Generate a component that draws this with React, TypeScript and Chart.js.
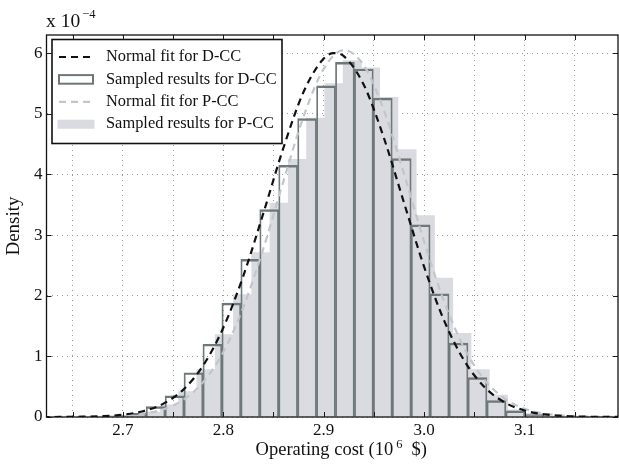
import React, { useEffect, useRef } from 'react';
import { Chart, registerables } from 'chart.js';

Chart.register(...registerables);

// ---------- data (density values in units of 1e-4) ----------
const dccBinCenters = [2.69493, 2.71378, 2.73263, 2.75148, 2.77033, 2.78918, 2.80803, 2.82688, 2.84573, 2.86458, 2.88343, 2.90228, 2.92113, 2.93998, 2.95883, 2.97768, 2.99653, 3.01538, 3.03423, 3.05308, 3.07193, 3.09078, 3.10963];
const dccDensity = [0.02, 0.06, 0.17, 0.35, 0.73, 1.20, 1.88, 2.60, 3.42, 4.15, 4.92, 5.46, 5.85, 5.74, 5.26, 4.26, 3.17, 2.03, 1.22, 0.65, 0.27, 0.10, 0.04];

const pccBinCenters = [2.7100, 2.7282, 2.7464, 2.7646, 2.7828, 2.8010, 2.8192, 2.8374, 2.8556, 2.8738, 2.8920, 2.9102, 2.9284, 2.9466, 2.9648, 2.9830, 3.0012, 3.0194, 3.0376, 3.0558, 3.0740, 3.0922, 3.1104, 3.1286];
const pccDensity = [0.03, 0.08, 0.20, 0.42, 0.78, 1.36, 2.02, 2.71, 3.53, 4.25, 4.93, 5.50, 5.88, 5.76, 5.27, 4.41, 3.32, 2.29, 1.38, 0.78, 0.36, 0.12, 0.06, 0.02];

const dccFitX = [2.62, 2.64, 2.66, 2.68, 2.70, 2.72, 2.74, 2.76, 2.78, 2.80, 2.82, 2.84, 2.86, 2.88, 2.90, 2.91, 2.92, 2.94, 2.96, 2.98, 3.00, 3.02, 3.04, 3.06, 3.08, 3.10, 3.12, 3.14, 3.16, 3.18, 3.20];
const dccFitY = [0.000, 0.001, 0.005, 0.014, 0.038, 0.095, 0.216, 0.448, 0.850, 1.471, 2.329, 3.366, 4.445, 5.364, 5.911, 6.000, 5.951, 5.474, 4.598, 3.530, 2.475, 1.585, 0.927, 0.496, 0.242, 0.108, 0.044, 0.016, 0.006, 0.002, 0.001];

const pccFitX = [2.62, 2.64, 2.66, 2.68, 2.70, 2.72, 2.74, 2.76, 2.78, 2.80, 2.82, 2.84, 2.86, 2.88, 2.90, 2.92, 2.94, 2.96, 2.98, 3.00, 3.02, 3.04, 3.06, 3.08, 3.10, 3.12, 3.14, 3.16, 3.18, 3.20];
const pccFitY = [0.000, 0.001, 0.002, 0.006, 0.019, 0.051, 0.125, 0.281, 0.575, 1.070, 1.810, 2.783, 3.895, 4.958, 5.742, 6.050, 5.797, 5.054, 4.007, 2.891, 1.897, 1.133, 0.615, 0.304, 0.136, 0.056, 0.021, 0.007, 0.002, 0.001];

const xTickValues = [2.65, 2.70, 2.75, 2.80, 2.85, 2.90, 2.95, 3.00, 3.05, 3.10, 3.15];
const xTickLabels = ['', '2.7', '', '2.8', '', '2.9', '', '3.0', '', '3.1', ''];
const yTickValues = [0, 1, 2, 3, 4, 5, 6];
const yTickLabels = ['0', '1', '2', '3', '4', '5', '6'];

const seriesLabels = ['Normal fit for D-CC', 'Sampled results for D-CC', 'Normal fit for P-CC', 'Sampled results for P-CC'];
const xTitleMain = 'Operating cost (10';
const xTitleSup = '6';
const xTitleTail = '$)';
const yTitle = 'Density';
const yExpBase = 'x 10';
const yExpSup = '\u22124';

const X_MIN = 2.624;
const X_MAX = 3.193;
const Y_MAX = 6.3;

const FONT = "'Liberation Serif', 'DejaVu Serif', 'Times New Roman', serif";
const EDGE = '#6e7878';
const PFILL = '#d9dbe1';
const PLINE = '#c2c6cb';

export default function App() {
  const ref = useRef<HTMLCanvasElement | null>(null);

  useEffect(() => {
    document.body.style.margin = '0';
    const canvas = ref.current;
    if (!canvas) return;

    const decor = {
      id: 'decor',
      beforeDraw(chart: any) {
        const { ctx } = chart;
        ctx.save();
        ctx.fillStyle = '#ffffff';
        ctx.fillRect(0, 0, chart.width, chart.height);
        ctx.restore();
      },
      afterDatasetsDraw(chart: any) {
        const { ctx, chartArea: a, scales } = chart;
        const xs = scales.x;
        const ys = scales.y;
        ctx.save();
        // inward tick marks
        ctx.strokeStyle = '#1a1a1a';
        ctx.lineWidth = 1;
        ctx.setLineDash([]);
        ctx.beginPath();
        xTickValues.forEach((v) => {
          const p = Math.round(xs.getPixelForValue(v)) + 0.5;
          ctx.moveTo(p, a.bottom);
          ctx.lineTo(p, a.bottom - 5);
          ctx.moveTo(p, a.top);
          ctx.lineTo(p, a.top + 5);
        });
        yTickValues.forEach((v) => {
          const p = Math.round(ys.getPixelForValue(v)) + 0.5;
          ctx.moveTo(a.left, p);
          ctx.lineTo(a.left + 5, p);
          ctx.moveTo(a.right, p);
          ctx.lineTo(a.right - 5, p);
        });
        ctx.stroke();
        // axes box
        ctx.lineWidth = 1.3;
        ctx.strokeStyle = '#111';
        ctx.strokeRect(a.left, a.top, a.right - a.left, a.bottom - a.top);

        // legend
        const lx = a.left + 5.5;
        const ly = a.top + 4.5;
        const lw = 230;
        const lh = 104;
        ctx.fillStyle = '#ffffff';
        ctx.fillRect(lx, ly, lw, lh);
        ctx.lineWidth = 1.6;
        ctx.strokeStyle = '#111';
        ctx.strokeRect(lx, ly, lw, lh);
        const ds = chart.data.datasets;
        ds.forEach((d: any, i: number) => {
          const yc = ly + 17.5 + i * 22.4;
          const sx0 = lx + 7;
          const sx1 = lx + 41;
          if (d.type === 'line') {
            ctx.save();
            ctx.strokeStyle = d.borderColor;
            ctx.lineWidth = d.borderWidth;
            ctx.setLineDash(d.borderDash || []);
            ctx.beginPath();
            ctx.moveTo(sx0, yc);
            ctx.lineTo(sx1, yc);
            ctx.stroke();
            ctx.restore();
          } else if (d.legendOutline) {
            ctx.save();
            ctx.strokeStyle = d.borderColor;
            ctx.lineWidth = 2;
            ctx.strokeRect(sx0, yc - 4.3, sx1 - sx0, 8.6);
            ctx.restore();
          } else {
            ctx.save();
            ctx.fillStyle = d.backgroundColor;
            ctx.fillRect(sx0 - 1.5, yc - 4.5, sx1 - sx0 + 3, 9);
            ctx.restore();
          }
          ctx.fillStyle = '#111';
          ctx.font = `16.4px ${FONT}`;
          ctx.textAlign = 'left';
          ctx.textBaseline = 'middle';
          ctx.fillText(d.label, lx + 54, yc);
        });
        ctx.restore();
      },
      afterDraw(chart: any) {
        const { ctx, chartArea: a } = chart;
        ctx.save();
        ctx.fillStyle = '#111';
        ctx.textBaseline = 'alphabetic';
        ctx.textAlign = 'left';
        // x title with superscript
        ctx.font = `18.5px ${FONT}`;
        const wMain = ctx.measureText(xTitleMain).width;
        const wTail = ctx.measureText(xTitleTail).width;
        ctx.font = `12.5px ${FONT}`;
        const wSup = ctx.measureText(xTitleSup).width;
        const gap1 = 3;
        const gap2 = 9;
        const total = wMain + gap1 + wSup + gap2 + wTail;
        const cx = (a.left + a.right) / 2 + 9;
        let x0 = cx - total / 2;
        const base = a.bottom + 38;
        ctx.font = `18.5px ${FONT}`;
        ctx.fillText(xTitleMain, x0, base);
        x0 += wMain + gap1;
        ctx.font = `12.5px ${FONT}`;
        ctx.fillText(xTitleSup, x0, base - 7);
        x0 += wSup + gap2;
        ctx.font = `18.5px ${FONT}`;
        ctx.fillText(xTitleTail, x0, base);

        // y title
        ctx.save();
        ctx.translate(14, (a.top + a.bottom) / 2);
        ctx.rotate(-Math.PI / 2);
        ctx.textAlign = 'center';
        ctx.textBaseline = 'middle';
        ctx.font = `19px ${FONT}`;
        ctx.fillText(yTitle, 0, 0);
        ctx.restore();

        // exponent label
        ctx.font = `19.5px ${FONT}`;
        ctx.textAlign = 'left';
        ctx.fillText(yExpBase, a.left - 0.5, a.top - 8);
        const wb = ctx.measureText(yExpBase).width;
        ctx.font = `12.5px ${FONT}`;
        ctx.fillText(yExpSup, a.left - 0.5 + wb + 2, a.top - 17);
        ctx.restore();
      },
    };

    const chart = new Chart(canvas, {
      type: 'bar',
      data: {
        datasets: [
          {
            type: 'line',
            label: seriesLabels[0],
            data: dccFitX.map((x, i) => ({ x, y: dccFitY[i] })),
            xAxisID: 'x',
            borderColor: '#111111',
            borderWidth: 2.2,
            borderDash: [7, 5],
            pointRadius: 0,
            fill: false,
            cubicInterpolationMode: 'monotone',
            order: 0,
          },
          {
            type: 'bar',
            label: seriesLabels[1],
            data: dccBinCenters.map((x, i) => ({ x, y: dccDensity[i] })),
            xAxisID: 'x',
            backgroundColor: 'rgba(0,0,0,0)',
            borderColor: EDGE,
            borderWidth: { top: 1.8, left: 1.15, right: 1.15, bottom: 0 },
            borderSkipped: false,
            barPercentage: 1,
            categoryPercentage: 1,
            grouped: false,
            legendOutline: true,
            order: 2,
          },
          {
            type: 'line',
            label: seriesLabels[2],
            data: pccFitX.map((x, i) => ({ x, y: pccFitY[i] })),
            xAxisID: 'x',
            borderColor: PLINE,
            borderWidth: 2.2,
            borderDash: [7, 5],
            pointRadius: 0,
            fill: false,
            cubicInterpolationMode: 'monotone',
            order: 1,
          },
          {
            type: 'bar',
            label: seriesLabels[3],
            data: pccBinCenters.map((x, i) => ({ x, y: pccDensity[i] })),
            xAxisID: 'x2',
            backgroundColor: PFILL,
            borderWidth: 0,
            barPercentage: 1,
            categoryPercentage: 1,
            grouped: false,
            order: 3,
          },
        ] as any,
      },
      options: {
        responsive: false,
        animation: false,
        devicePixelRatio: window.devicePixelRatio || 1,
        layout: { padding: { left: 0, top: 35, right: 1, bottom: 0 } },
        plugins: {
          legend: { display: false },
          tooltip: { enabled: false },
          title: { display: false },
        },
        scales: {
          x: {
            type: 'linear',
            position: 'bottom',
            offset: false,
            min: X_MIN,
            max: X_MAX,
            bounds: 'data',
            afterBuildTicks: (s: any) => {
              s.ticks = xTickValues.map((v) => ({ value: v }));
            },
            afterFit: (s: any) => {
              s.height = 53;
            },
            grid: { offset: false, color: '#9a9a9a', lineWidth: 1, drawTicks: false, tickLength: 0 },
            border: { display: false, dash: [1, 4] },
            ticks: {
              autoSkip: false,
              maxRotation: 0,
              padding: 3.5,
              color: '#111',
              font: { family: FONT, size: 17 },
              callback: (_v: any, i: number) => xTickLabels[i],
            },
          },
          x2: {
            type: 'linear',
            position: 'bottom',
            display: false,
            offset: false,
            min: X_MIN,
            max: X_MAX,
            bounds: 'data',
            grid: { offset: false },
            afterBuildTicks: (s: any) => {
              s.ticks = xTickValues.map((v) => ({ value: v }));
            },
          },
          y: {
            type: 'linear',
            position: 'left',
            min: 0,
            max: Y_MAX,
            bounds: 'data',
            afterBuildTicks: (s: any) => {
              s.ticks = yTickValues.map((v) => ({ value: v }));
            },
            afterFit: (s: any) => {
              s.width = 46.5;
            },
            grid: { color: '#9a9a9a', lineWidth: 1, drawTicks: false, tickLength: 0 },
            border: { display: false, dash: [1, 4] },
            ticks: {
              padding: 4,
              color: '#111',
              font: { family: FONT, size: 17 },
              callback: (_v: any, i: number) => yTickLabels[i],
            },
          },
        },
      } as any,
      plugins: [decor],
    });

    return () => {
      chart.destroy();
    };
  }, []);

  return (
    <div style={{ width: 619, height: 470 }}>
      <canvas ref={ref} width={619} height={470} style={{ display: 'block', width: 619, height: 470 }} />
    </div>
  );
}
